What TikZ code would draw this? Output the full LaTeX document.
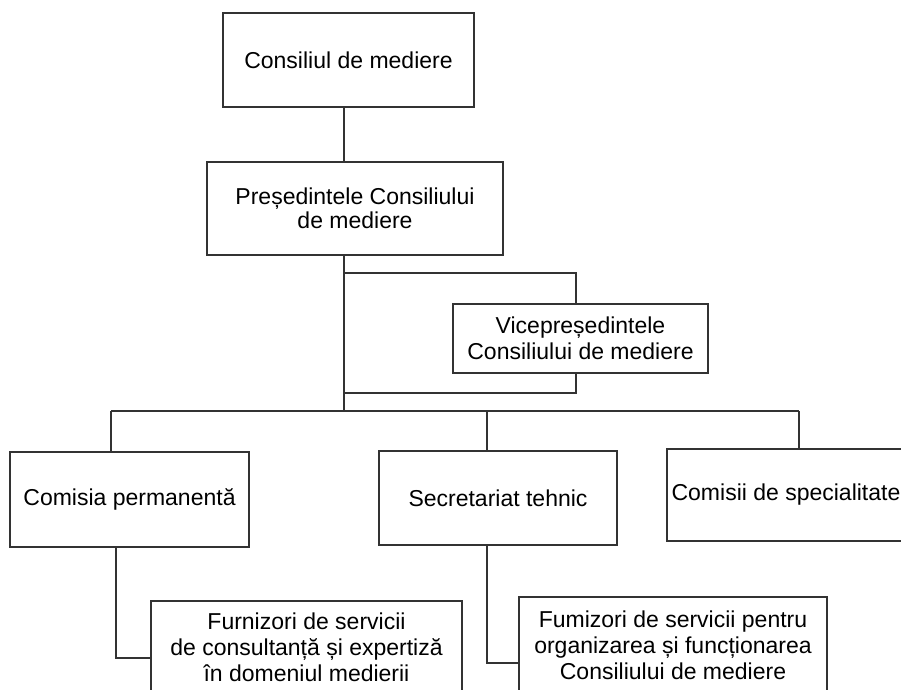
\documentclass[tikz,border=0pt]{standalone}
\usepackage{fontspec}
\setmainfont{Liberation Sans}
\usepackage{tikz}

\begin{document}
\begin{tikzpicture}[x=0.5pt, y=-0.5pt]
    % Define styles
    \tikzset{
        box/.style={rectangle, draw=black!80, line width=0.9pt, align=center, inner sep=0pt,
            font=\fontsize{11.5}{13}\selectfont},
        link/.style={draw=black!80, line width=0.9pt}
    }
    \useasboundingbox (0,0) rectangle (901,690);

    % Nodes
    \node[box, minimum width=125.5pt, minimum height=47pt] (consiliu) at (348.5,60) {Consiliul de mediere};
    \node[box, minimum width=148pt, minimum height=46.5pt, font=\fontsize{11.5}{10}\selectfont] (presedinte) at (355,208.5) {Președintele Consiliului\\de mediere};
    \node[box, minimum width=127.5pt, minimum height=34.5pt] (vice) at (580.5,338.5) {Vicepreședintele\\Consiliului de mediere};
    \node[box, minimum width=119.5pt, minimum height=47.5pt] (comisia) at (129.5,499.5) {Comisia permanentă};
    \node[box, minimum width=119pt, minimum height=47pt] (secretariat) at (498,498) {Secretariat tehnic};
    \node[box, minimum width=119pt, minimum height=46pt] (specialitate) at (786,495) {Comisii de specialitate};
    \node[box, minimum width=155.5pt, minimum height=46pt] (furnizori) at (306.5,647) {Furnizori de servicii\\de consultanță și expertiză\\în domeniul medierii};
    \node[box, minimum width=154pt, minimum height=48pt] (fumizori) at (673,645) {Fumizori de servicii pentru\\organizarea și funcționarea\\Consiliului de mediere};

    % Bends
    \coordinate (spine) at (344,411);
    \coordinate (loop_top) at (576,273);
    \coordinate (loop_bot) at (576,393);
    \coordinate (bus_left) at (111,411);
    \coordinate (bus_mid) at (487,411);
    \coordinate (bus_right) at (799,411);
    \coordinate (bend_left) at (116,658);
    \coordinate (bend_right) at (487,663);

    % Lines
    \draw[link] (consiliu.south -| spine) -- (presedinte.north -| spine);
    \draw[link] (presedinte.south -| spine) -- (spine);
    \draw[link] (loop_top -| spine) -- (loop_top) -- (vice.north -| loop_top);
    \draw[link] (vice.south -| loop_bot) -- (loop_bot) -- (loop_bot -| spine);
    \draw[link] (bus_left) -- (bus_right);
    \draw[link] (bus_left) -- (comisia.north -| bus_left);
    \draw[link] (bus_mid) -- (secretariat.north -| bus_mid);
    \draw[link] (bus_right) -- (specialitate.north -| bus_right);
    \draw[link] (comisia.south -| bend_left) -- (bend_left) -- (bend_left -| furnizori.west);
    \draw[link] (secretariat.south -| bend_right) -- (bend_right) -- (bend_right -| fumizori.west);
\end{tikzpicture}
\end{document}
